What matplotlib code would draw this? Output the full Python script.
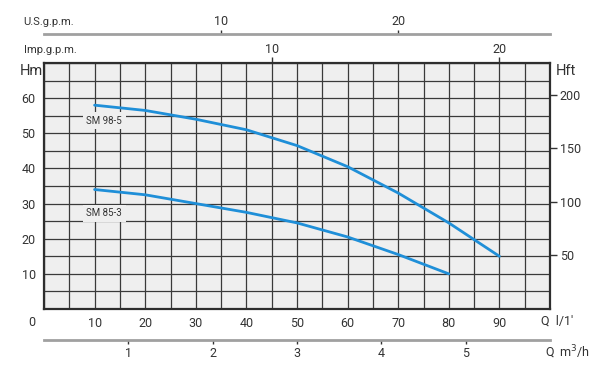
import numpy as np
import matplotlib.pyplot as plt
from matplotlib.ticker import MultipleLocator, FixedLocator

# pump curves, Q in l/min, H in m
q_98_5 = [10, 20, 30, 40, 50, 60, 70, 80, 90]
h_98_5 = [58, 56.5, 54, 51, 46.5, 40.5, 33, 24.5, 15]
q_85_3 = [10, 20, 30, 40, 50, 60, 70, 80]
h_85_3 = [34, 32.5, 30, 27.5, 24.5, 20.5, 15.5, 10]

hm_ticks = [10, 20, 30, 40, 50, 60]
hft_ticks = [50, 100, 150, 200]
q_ticks = [10, 20, 30, 40, 50, 60, 70, 80, 90]
imp_ticks = [10, 20]
us_ticks = [10, 20]
m3h_ticks = [1, 2, 3, 4, 5]

# scale factors as drawn on the chart (l/min per unit)
M_PER_FT = 0.3048
LMIN_PER_IMP = 4.5
LMIN_PER_US = 3.5
LMIN_PER_M3H = 1000 / 60

plt.rcParams['font.family'] = ['Roboto', 'DejaVu Sans']
TXT = '#333333'
BG = '#efefef'
GRID = '#3a3a3a'
BLUE = '#1f8fd8'

W, H = 600, 375
fig = plt.figure(figsize=(6, 3.75), dpi=100)
# plot box in pixels: x 44..550, y 63..309
ax = fig.add_axes([44 / W, 1 - 309 / H, 506 / W, 246 / H])
ax.set_facecolor(BG)
ax.set_xlim(0, 100)
ax.set_ylim(0, 70)

ax.xaxis.set_major_locator(MultipleLocator(5))
ax.yaxis.set_major_locator(MultipleLocator(5))
ax.set_xticklabels([str(int(v)) if v in q_ticks else '' for v in ax.get_xticks()])
ax.set_yticklabels([str(int(v)) if v in hm_ticks else '' for v in ax.get_yticks()])
ax.tick_params(axis='both', length=0, labelsize=9, colors=TXT)
ax.tick_params(axis='x', pad=6)
ax.tick_params(axis='y', pad=6)
ax.grid(True, color=GRID, lw=0.9)
ax.set_axisbelow(True)
for s in ax.spines.values():
    s.set_color('#2e2e2e')
    s.set_linewidth(1.6)

ax.plot(q_98_5, h_98_5, color=BLUE, lw=2, solid_capstyle='round', zorder=3)
ax.plot(q_85_3, h_85_3, color=BLUE, lw=2, solid_capstyle='round', zorder=3)

lab = dict(fontsize=7, color=TXT, ha='center', va='center', zorder=4,
           bbox=dict(facecolor=BG, edgecolor='none', pad=2.5))
ax.text(11.9, 53.5, 'SM 98-5', **lab)
ax.text(11.9, 27.3, 'SM 85-3', **lab)

# right axis in feet
axr = ax.secondary_yaxis('right', functions=(lambda m: m / M_PER_FT, lambda f: f * M_PER_FT))
axr.yaxis.set_major_locator(FixedLocator(hft_ticks))
axr.tick_params(length=5, width=1, colors=TXT, labelsize=9, pad=2)
axr.spines['right'].set_visible(False)

# top axis Imp gpm on the box
axi = ax.secondary_xaxis('top', functions=(lambda q: q / LMIN_PER_IMP, lambda g: g * LMIN_PER_IMP))
axi.xaxis.set_major_locator(FixedLocator(imp_ticks))
axi.tick_params(length=4, width=1, colors=TXT, labelsize=9, pad=1)
axi.spines['top'].set_visible(False)

# US gpm axis above
axu = ax.secondary_xaxis((309 - 34) / 246, functions=(lambda q: q / LMIN_PER_US, lambda g: g * LMIN_PER_US))
axu.xaxis.set_major_locator(FixedLocator(us_ticks))
axu.tick_params(length=3, width=1, colors=TXT, labelsize=9, pad=1)
axu.spines['top'].set_color('#a0a0a0')
axu.spines['top'].set_linewidth(2)

# m3/h axis below
axm = ax.secondary_xaxis(-(340 - 309) / 246, functions=(lambda q: q / LMIN_PER_M3H, lambda v: v * LMIN_PER_M3H))
axm.xaxis.set_major_locator(FixedLocator(m3h_ticks))
axm.tick_params(length=3, width=1, colors=TXT, labelsize=9, pad=2)
axm.spines['bottom'].set_color('#a0a0a0')
axm.spines['bottom'].set_linewidth(2)


def ftext(px, py, s, **kw):
    kw.setdefault('color', TXT)
    kw.setdefault('fontsize', 9)
    kw.setdefault('va', 'center')
    fig.text(px / W, 1 - py / H, s, **kw)


ftext(23, 22, 'U.S.g.p.m.', fontsize=8)
ftext(24, 50, 'Imp.g.p.m.', fontsize=8)
ftext(20, 71, 'Hm', fontsize=10.5)
ftext(556, 71, 'Hft', fontsize=10.5)
ftext(32, 322, '0', ha='center')
ftext(541, 321, "Q  l/1'")
ftext(545, 352, 'Q  m$^3$/h')

fig.savefig('out.png', dpi=100, facecolor='white')
